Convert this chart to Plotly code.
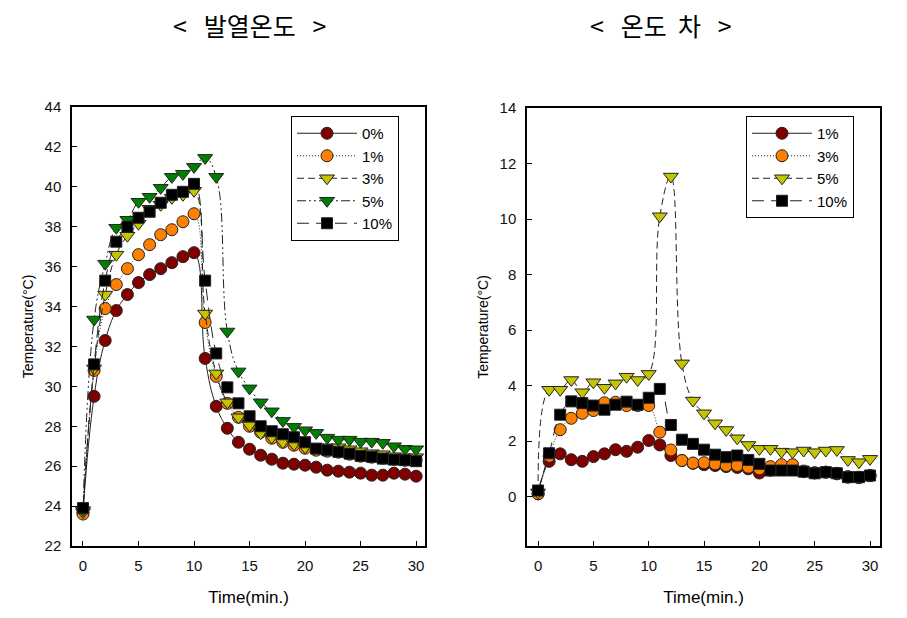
import plotly.graph_objects as go

# ---------------- data ----------------
time = list(range(31))

# left panel: 발열온도 (heating temperature)
left_names = ["0%", "1%", "3%", "5%", "10%"]
L0 = [23.7, 29.5, 32.3, 33.8, 34.6, 35.2, 35.6, 35.9, 36.2, 36.5, 36.7, 31.4, 29.0, 27.9, 27.2, 26.85,
      26.55, 26.35, 26.15, 26.1, 26.05, 25.95, 25.8, 25.75, 25.7, 25.65, 25.55, 25.55, 25.65, 25.6, 25.5]
L1 = [23.6, 30.8, 33.9, 35.1, 35.9, 36.6, 37.1, 37.6, 37.85, 38.25, 38.65, 33.2, 30.5, 29.15, 28.45, 28.0,
      27.7, 27.4, 27.2, 27.05, 26.9, 26.8, 26.75, 26.7, 26.6, 26.5, 26.45, 26.4, 26.35, 26.3, 26.3]
L3 = [23.7, 30.9, 34.6, 36.6, 37.55, 38.15, 38.9, 39.1, 39.45, 39.6, 39.8, 33.65, 30.65, 29.2, 28.45, 28.05,
      27.65, 27.45, 27.2, 27.1, 26.95, 26.95, 26.95, 26.95, 26.85, 26.75, 26.65, 26.6, 26.5, 26.45, 26.45]
L5 = [23.8, 33.35, 36.15, 37.95, 38.35, 39.25, 39.5, 39.95, 40.5, 40.65, 41.0, 41.45, 40.5, 32.75, 30.75, 29.9,
      29.2, 28.75, 28.27, 27.97, 27.8, 27.67, 27.43, 27.33, 27.33, 27.23, 27.23, 27.17, 27.0, 26.87, 26.85]
L10 = [23.9, 31.1, 35.3, 37.25, 38.0, 38.45, 38.75, 39.2, 39.6, 39.75, 40.15, 35.3, 31.65, 29.95, 29.15, 28.5,
       28.0, 27.75, 27.6, 27.45, 27.2, 26.88, 26.8, 26.72, 26.63, 26.52, 26.47, 26.38, 26.33, 26.3, 26.25]

# right panel: 온도 차 (temperature difference)
right_names = ["1%", "3%", "5%", "10%"]
R1 = [0.1, 1.27, 1.54, 1.33, 1.27, 1.44, 1.54, 1.69, 1.63, 1.78, 2.02, 1.86, 1.48, 1.3, 1.2, 1.15,
      1.12, 1.08, 1.05, 1.0, 0.85, 0.95, 1.0, 1.0, 0.9, 0.85, 0.88, 0.82, 0.7, 0.68, 0.75]
R3 = [0.1, 1.45, 2.41, 2.82, 3.0, 3.1, 3.38, 3.4, 3.28, 3.28, 3.28, 2.32, 1.68, 1.3, 1.21, 1.22,
      1.18, 1.12, 1.12, 1.06, 1.0, 1.08, 1.15, 1.15, 0.92, 0.86, 0.88, 0.84, 0.72, 0.7, 0.76]
R5 = [0.15, 3.85, 3.85, 4.2, 3.76, 4.12, 3.92, 4.08, 4.32, 4.2, 4.42, 10.1, 11.53, 4.8, 3.46, 3.0,
      2.64, 2.4, 2.1, 1.86, 1.72, 1.72, 1.62, 1.6, 1.66, 1.6, 1.66, 1.68, 1.32, 1.24, 1.36]
R10 = [0.22, 1.56, 2.95, 3.43, 3.37, 3.28, 3.13, 3.31, 3.42, 3.31, 3.56, 3.88, 2.58, 2.05, 1.9, 1.69,
       1.51, 1.42, 1.48, 1.32, 1.18, 0.94, 0.94, 0.94, 0.9, 0.84, 0.88, 0.84, 0.7, 0.7, 0.76]

left_ticks = list(range(22, 45, 2))
right_ticks = list(range(0, 15, 2))
x_ticks = list(range(0, 31, 5))

# ---------------- styles ----------------
DARKRED = "#800000"
ORANGE = "#ff8000"
YELLOW = "#c4c400"
GREEN = "#008000"
BLACK = "#000000"

DASH_SOLID = "solid"
DASH_DOT = "1px,2px"
DASH_DASH = "7px,4px"
DASH_DDOT = "9px,3px,2px,3px,2px,3px"
DASH_LONG = "12px,7px"

left_styles = [
    (DARKRED, "circle", 12, DASH_SOLID),
    (ORANGE, "circle", 12, DASH_DOT),
    (YELLOW, "triangle-down", 13, DASH_DASH),
    (GREEN, "triangle-down", 13, DASH_DDOT),
    (BLACK, "square", 11, DASH_LONG),
]
right_styles = [
    (DARKRED, "circle", 12, DASH_SOLID),
    (ORANGE, "circle", 12, DASH_DOT),
    (YELLOW, "triangle-down", 13, DASH_DASH),
    (BLACK, "square", 11, DASH_LONG),
]

fig = go.Figure()

for name, ys, (col, sym, sz, dash) in zip(left_names, [L0, L1, L3, L5, L10], left_styles):
    fig.add_trace(go.Scatter(
        x=time, y=ys, name=name, mode="lines+markers",
        xaxis="x", yaxis="y", legend="legend",
        line=dict(color="#222222", width=1, dash=dash, shape="spline", smoothing=1.2),
        marker=dict(color=col, symbol=sym, size=sz, line=dict(color="#222222", width=1)),
    ))

for name, ys, (col, sym, sz, dash) in zip(right_names, [R1, R3, R5, R10], right_styles):
    fig.add_trace(go.Scatter(
        x=time, y=ys, name=name, mode="lines+markers",
        xaxis="x2", yaxis="y2", legend="legend2",
        line=dict(color="#222222", width=1, dash=dash, shape="spline", smoothing=1.2),
        marker=dict(color=col, symbol=sym, size=sz, line=dict(color="#222222", width=1)),
    ))

# page body has an 8px margin; figure is offset by it
OFF = 8
W, H = 907 - OFF, 618 - OFF
def px_x(p):
    return (p - OFF) / W
def px_y(p):
    return 1 - (p - OFF) / H

FONT = "Liberation Sans, Arial, sans-serif"
tickfont = dict(family=FONT, size=15, color="#111111")
axis_common = dict(
    showgrid=False, zeroline=False, showline=True, linecolor="black", linewidth=1.5,
    mirror=True, ticks="inside", ticklen=5, tickcolor="black", tickwidth=1,
    tickfont=tickfont, automargin=False,
)

NB = "\u00a0"
title_left = "<" + NB * 3 + "발열온도" + NB * 3 + ">"
title_right = "<" + NB * 3 + "온도" + NB * 2 + "차" + NB * 3 + ">"

fig.update_layout(
    width=W, height=H,
    margin=dict(l=0, r=0, t=0, b=0),
    plot_bgcolor="white", paper_bgcolor="white",
    xaxis=dict(domain=[px_x(72), px_x(425)], range=[-0.99, 30.8], tickvals=x_ticks, anchor="y",
               ticklabelstandoff=5,
               title=dict(text="Time(min.)", font=dict(family=FONT, size=17, color="black"), standoff=18),
               **axis_common),
    yaxis=dict(domain=[px_y(546), px_y(107)], range=[22, 44], tickvals=left_ticks, anchor="x",
               ticklabelstandoff=6,
               title=dict(text="Temperature(°C)", font=dict(family=FONT, size=14, color="black"), standoff=8),
               **axis_common),
    xaxis2=dict(domain=[px_x(527), px_x(880)], range=[-1.0, 30.9], tickvals=x_ticks, anchor="y2",
                ticklabelstandoff=5,
                title=dict(text="Time(min.)", font=dict(family=FONT, size=17, color="black"), standoff=18),
                **axis_common),
    yaxis2=dict(domain=[px_y(546), px_y(108)], range=[-1.78, 14], tickvals=right_ticks, anchor="x2",
                ticklabelstandoff=6,
                title=dict(text="Temperature(°C)", font=dict(family=FONT, size=14, color="black"), standoff=8),
                **axis_common),
    legend=dict(x=px_x(291), y=px_y(116), xanchor="left", yanchor="top",
                bordercolor="black", borderwidth=1, bgcolor="white",
                font=dict(family=FONT, size=15, color="black"),
                itemwidth=60, tracegroupgap=0),
    legend2=dict(x=px_x(746), y=px_y(116), xanchor="left", yanchor="top",
                 bordercolor="black", borderwidth=1, bgcolor="white",
                 font=dict(family=FONT, size=15, color="black"),
                 itemwidth=60, tracegroupgap=0),
    annotations=[
        dict(text=title_left, x=px_x(249), y=px_y(25), xref="paper", yref="paper",
             showarrow=False, xanchor="center", yanchor="middle",
             font=dict(family="Noto Sans CJK KR", size=25, color="black")),
        dict(text=title_right, x=px_x(661), y=px_y(25), xref="paper", yref="paper",
             showarrow=False, xanchor="center", yanchor="middle",
             font=dict(family="Noto Sans CJK KR", size=25, color="black")),
    ],
)

fig.write_html("out.html")
